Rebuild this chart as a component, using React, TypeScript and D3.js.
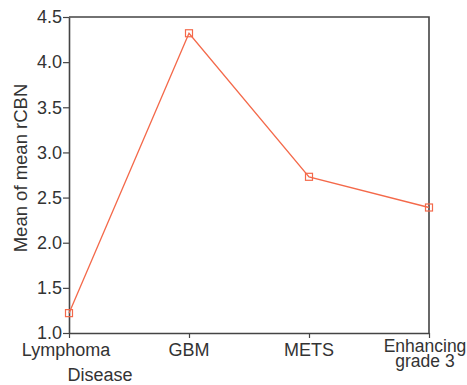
import React, { useEffect, useRef } from 'react'
import * as d3 from 'd3'

// disease groups and mean rCBN
const categories = ['Lymphoma', 'GBM', 'METS', 'Enhancing grade 3']
const meanRcbn = [1.22, 4.32, 2.73, 2.39]
const yTicks = [1.0, 1.5, 2.0, 2.5, 3.0, 3.5, 4.0, 4.5]

const W = 467
const H = 385
const margin = { top: 17, right: 38, bottom: 52, left: 69 }
const lineColor = '#f4694a'
const textColor = '#333'

export default function App () {
  const ref = useRef<SVGSVGElement>(null)

  useEffect(() => {
    const svg = d3.select(ref.current)
    svg.selectAll('*').remove()

    const x = d3.scalePoint<string>()
      .domain(categories)
      .range([margin.left, W - margin.right])
      .padding(0)
    const y = d3.scaleLinear()
      .domain([1.0, 4.5])
      .range([H - margin.bottom, margin.top])

    const font = 'Liberation Sans, Arial, Helvetica, sans-serif'
    const fs = 18

    // frame: top + right lines
    svg.append('path')
      .attr('d', `M${margin.left},${margin.top}H${W - margin.right}V${H - margin.bottom}`)
      .attr('fill', 'none')
      .attr('stroke', '#444')
      .attr('stroke-width', 1.6)

    // y axis
    const yAxis = svg.append('g')
      .attr('transform', `translate(${margin.left},0)`)
      .call(d3.axisLeft(y).tickValues(yTicks).tickFormat(d3.format('.1f')).tickSize(6).tickSizeOuter(0))
    yAxis.select('.domain').attr('stroke', '#444').attr('stroke-width', 1.6)
    yAxis.selectAll('.tick line').attr('stroke', '#444').attr('stroke-width', 1.2)
    yAxis.selectAll('.tick text')
      .attr('font-size', fs).attr('font-family', font).attr('fill', textColor).attr('x', -7)

    // x axis
    const xAxis = svg.append('g')
      .attr('transform', `translate(0,${H - margin.bottom})`)
      .call(d3.axisBottom(x).tickSize(5).tickSizeOuter(0).tickFormat(() => ''))
    xAxis.select('.domain').attr('stroke', '#444').attr('stroke-width', 1.6)
    xAxis.selectAll('.tick line').attr('stroke', '#444').attr('stroke-width', 1.2)

    // x labels (multi-line where needed)
    const labelLines: Record<string, string[]> = {
      'Enhancing grade 3': ['Enhancing', 'grade 3']
    }
    const labelShift: Record<string, number> = { Lymphoma: -3, 'Enhancing grade 3': -4 }
    categories.forEach((c) => {
      const lines = labelLines[c] || [c]
      const cx = (x(c) as number) + (labelShift[c] || 0)
      const t = svg.append('text')
        .attr('x', cx)
        .attr('y', lines.length > 1 ? H - margin.bottom + 19 : H - margin.bottom + 23)
        .attr('text-anchor', 'middle')
        .attr('font-size', lines.length > 1 ? 17.5 : fs)
        .attr('font-family', font)
        .attr('fill', textColor)
      lines.forEach((l, i) => {
        t.append('tspan')
          .attr('x', cx)
          .attr('dy', i === 0 ? 0 : 15)
          .text(l)
      })
    })

    // axis titles
    svg.append('text')
      .attr('x', 100)
      .attr('y', 381)
      .attr('text-anchor', 'middle')
      .attr('font-size', fs)
      .attr('font-family', font)
      .attr('fill', textColor)
      .text('Disease')

    svg.append('text')
      .attr('transform', `translate(27,168) rotate(-90)`)
      .attr('text-anchor', 'middle')
      .attr('font-size', 18.5)
      .attr('font-family', font)
      .attr('fill', textColor)
      .text('Mean of mean rCBN')

    // series line
    const line = d3.line<number>()
      .x((_, i) => x(categories[i]) as number)
      .y((d) => y(d))
    svg.append('path')
      .datum(meanRcbn)
      .attr('d', line)
      .attr('fill', 'none')
      .attr('stroke', lineColor)
      .attr('stroke-width', 1.3)

    // square markers
    svg.selectAll('rect.pt')
      .data(meanRcbn)
      .enter()
      .append('rect')
      .attr('class', 'pt')
      .attr('x', (_, i) => (x(categories[i]) as number) - 3.5)
      .attr('y', (d) => y(d) - 3.5)
      .attr('width', 7)
      .attr('height', 7)
      .attr('fill', 'none')
      .attr('stroke', lineColor)
      .attr('stroke-width', 1.2)
  }, [])

  return (
    <svg ref={ref} width={W} height={H} style={{ position: 'absolute', left: 0, top: 0 }} />
  )
}
